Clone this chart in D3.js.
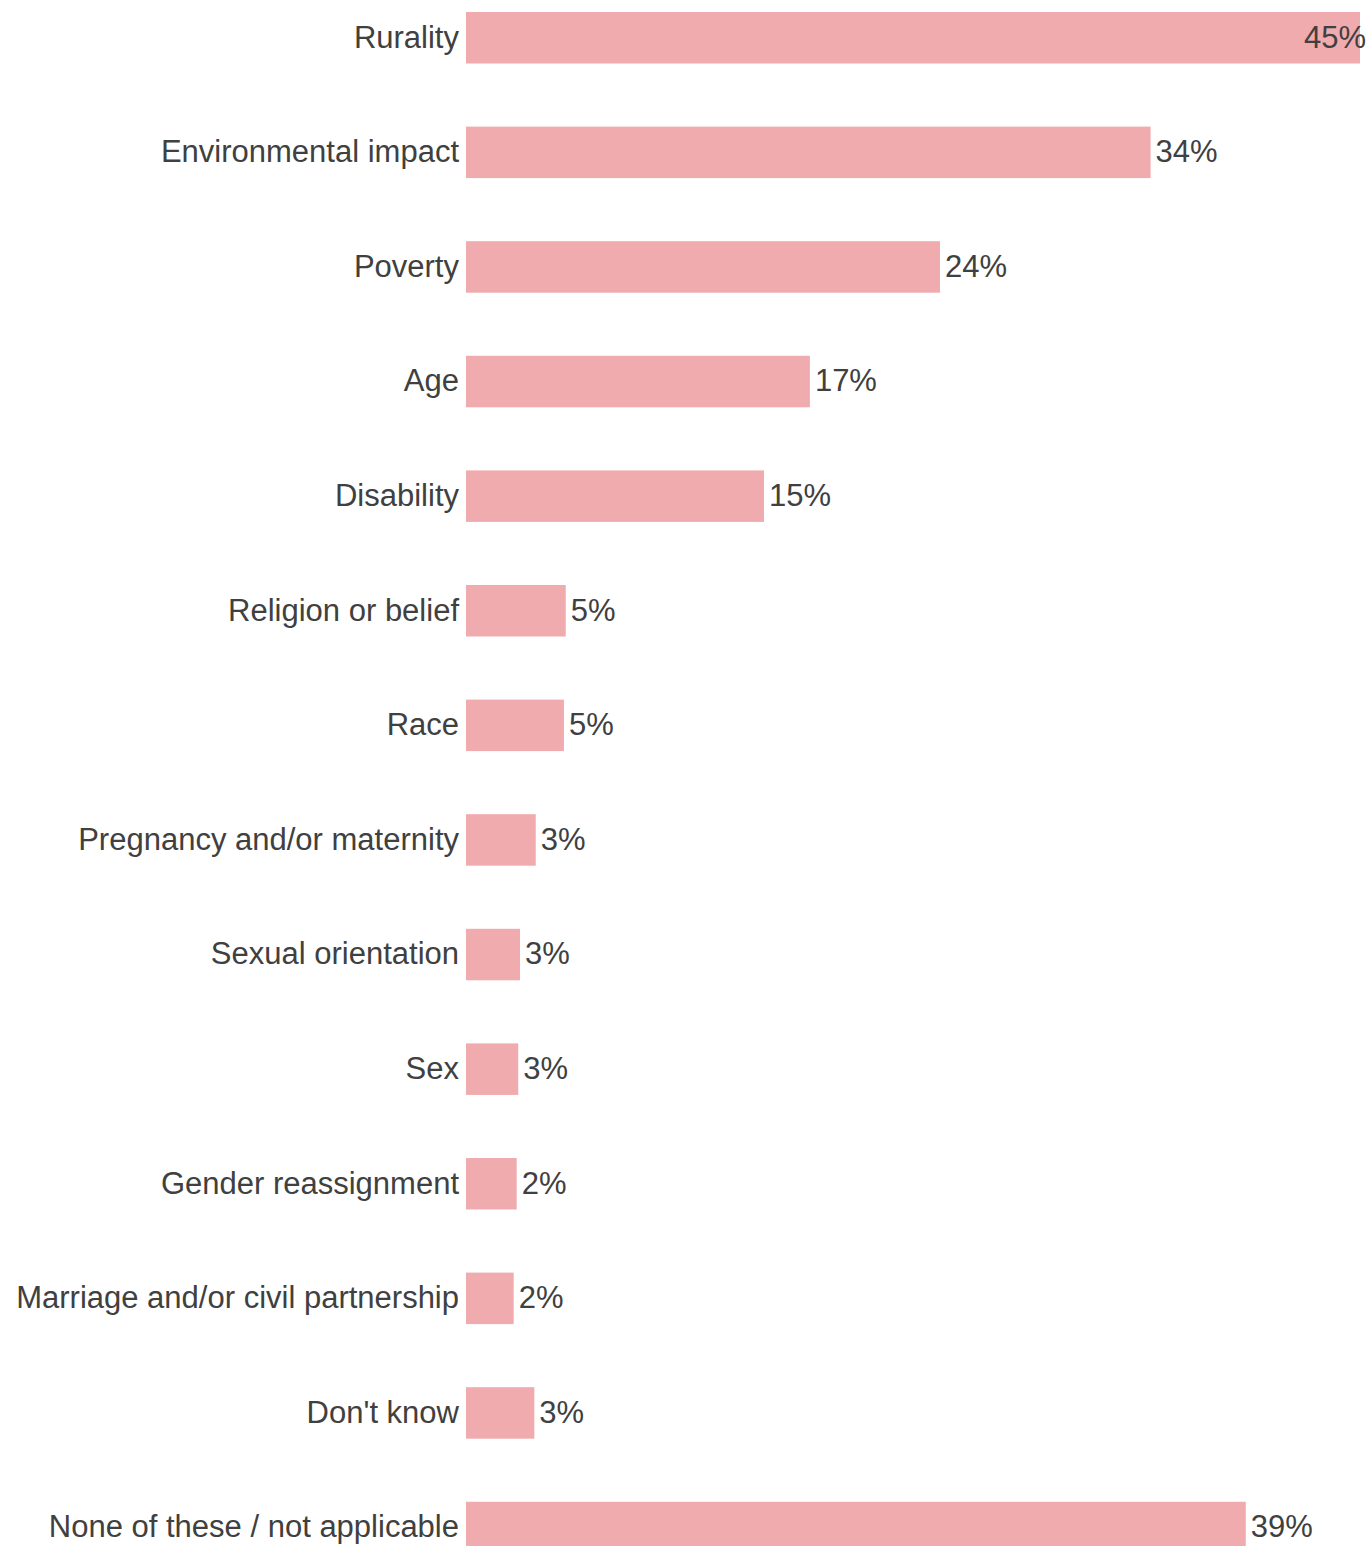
<!DOCTYPE html>
<html>
<head>
<meta charset="utf-8">
<script src="https://cdn.jsdelivr.net/npm/d3@7"></script>
<style>
  html, body { margin: 0; padding: 0; background: #ffffff; }
  svg { display: block; }
  text { font-family: "Liberation Sans", Arial, sans-serif; }
</style>
</head>
<body>
<svg id="chart" width="1370" height="1546"></svg>
<script>
const categories = [
  "Rurality",
  "Environmental impact",
  "Poverty",
  "Age",
  "Disability",
  "Religion or belief",
  "Race",
  "Pregnancy and/or maternity",
  "Sexual orientation",
  "Sex",
  "Gender reassignment",
  "Marriage and/or civil partnership",
  "Don't know",
  "None of these / not applicable"
];
const values = [45.0, 34.46, 23.86, 17.31, 15.0, 5.02, 4.93, 3.51, 2.72, 2.63, 2.55, 2.40, 3.44, 39.25];
const valueLabels = ["45%", "34%", "24%", "17%", "15%", "5%", "5%", "3%", "3%", "3%", "2%", "2%", "3%", "39%"];

const W = 1370, H = 1546;
const barColor = "#F0ABAE";
const textColor = "#404040";
const fontSize = 31;

const svg = d3.select("#chart");

const x = d3.scaleLinear().domain([0, 45]).range([466, 1360]);
const y = d3.scaleBand()
  .domain(categories)
  .range([12, 1553.3])
  .paddingInner(0.5506)
  .paddingOuter(0);

const data = categories.map((c, i) => ({ cat: c, v: values[i], label: valueLabels[i] }));

svg.selectAll("rect.bar")
  .data(data)
  .join("rect")
  .attr("class", "bar")
  .attr("x", x(0))
  .attr("y", d => y(d.cat))
  .attr("width", d => x(d.v) - x(0))
  .attr("height", y.bandwidth())
  .attr("fill", barColor);

svg.selectAll("text.cat")
  .data(data)
  .join("text")
  .attr("class", "cat")
  .attr("x", x(0) - 7)
  .attr("y", d => y(d.cat) + y.bandwidth() / 2)
  .attr("dy", "0.32em")
  .attr("text-anchor", "end")
  .attr("font-size", fontSize)
  .attr("fill", textColor)
  .text(d => d.cat);

const vl = svg.selectAll("text.val")
  .data(data)
  .join("text")
  .attr("class", "val")
  .attr("y", d => y(d.cat) + y.bandwidth() / 2)
  .attr("dy", "0.32em")
  .attr("font-size", fontSize)
  .attr("fill", textColor)
  .text(d => d.label);

vl.each(function(d) {
  const t = d3.select(this);
  const w = this.getComputedTextLength();
  const xs = x(d.v) + 5;
  if (xs + w > W - 3) {
    t.attr("x", W - 4).attr("text-anchor", "end");
  } else {
    t.attr("x", xs).attr("text-anchor", "start");
  }
});
</script>
</body>
</html>
